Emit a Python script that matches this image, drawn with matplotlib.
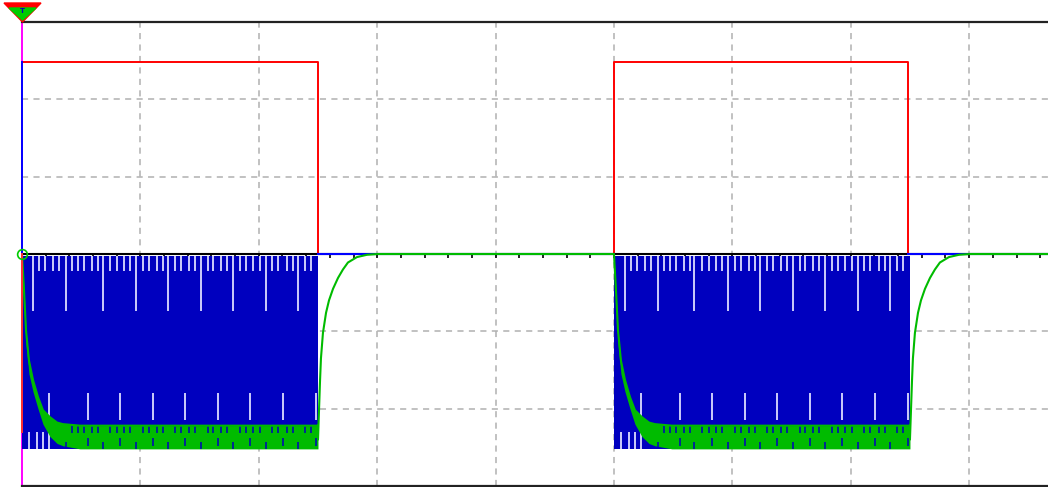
import matplotlib
matplotlib.use('Agg')
import matplotlib.pyplot as plt
from matplotlib.patches import Polygon
import numpy as np

# all values in screen divisions (x: time div, y: volts div)
pulse_starts = [0.0, 5.0]
pulse_len = 2.5

# red: gate/command square wave
red_t = [0.0, 2.5, 2.5, 5.0, 5.0, 7.48, 7.48, 8.7]
red_v = [2.48, 2.48, 0.0, 0.0, 2.48, 2.48, 0.0, 0.0]

# blue: switching signal (block envelope while pulse is on)
blue_top = -0.025
blue_bottom = -2.52
# white aliasing gaps inside the blue block, relative to pulse start
gap_long = [0.09, 0.37, 0.68, 0.96, 1.23, 1.51, 1.78, 2.06, 2.33]
gap_short = [0.144, 0.194, 0.262, 0.312, 0.422, 0.473, 0.524, 0.591, 0.642,
             0.743, 0.802, 0.861, 0.912, 1.022, 1.073, 1.140, 1.191, 1.292,
             1.343, 1.410, 1.461, 1.571, 1.613, 1.681, 1.731, 1.841, 1.892,
             1.951, 2.010, 2.111, 2.162, 2.238, 2.289, 2.390, 2.441]
gap_low = [0.228, 0.557, 0.828, 1.106, 1.377, 1.655, 1.926, 2.204, 2.483]
gap_bottom = [0.06, 0.13, 0.18, 0.23]

# green: filtered output, fall after pulse start
fall_t = [0.0, 0.017, 0.034, 0.059, 0.093, 0.135, 0.177, 0.236, 0.296, 0.346, 0.49]
fall_hi = [0.0, -0.47, -0.99, -1.38, -1.63, -1.85, -2.02, -2.11, -2.18, -2.20, -2.22]
fall_lo = [0.0, -0.60, -1.16, -1.55, -1.78, -2.00, -2.20, -2.36, -2.45, -2.48, -2.52]
band_hi = -2.22
band_lo = -2.52
# green rise after pulse end
rise_t = [0.0, 0.008, 0.017, 0.025, 0.042, 0.068, 0.093, 0.127, 0.169, 0.211,
          0.253, 0.329, 0.414, 0.507]
rise_v = [-2.40, -2.05, -1.65, -1.35, -1.02, -0.76, -0.60, -0.45, -0.31, -0.20,
          -0.11, -0.04, -0.01, 0.0]

XMAX = 8.666
BLUE = '#0000bf'
GREEN = '#00bb00'
GAP = '#dcdcff'

fig = plt.figure(figsize=(10.48, 4.87), dpi=100, facecolor='white')
ax = fig.add_axes([22/1048, 1/487, 1026/1048, 464/487])
ax.set_xlim(0, XMAX)
ax.set_ylim(-3, 3)
ax.set_xticks([])
ax.set_yticks([])

ax.spines['top'].set_color('#222222')
ax.spines['top'].set_linewidth(1.6)
ax.spines['bottom'].set_color('#222222')
ax.spines['bottom'].set_linewidth(1.6)
ax.spines['left'].set_color('#ff00ff')
ax.spines['left'].set_linewidth(1.4)
ax.spines['right'].set_visible(False)

# grid
for gx in range(1, 9):
    ax.axvline(gx, color='#b0b0b0', lw=1.1, ls=(0, (4, 3.5)), zorder=1)
for gy in [-2, -1, 1, 2]:
    ax.axhline(gy, color='#b0b0b0', lw=1.1, ls=(0, (4, 3.5)), zorder=1)

# zero line with small ticks
ax.axhline(0, color='black', lw=1.5, zorder=2)
ax.vlines(np.arange(0, XMAX, 0.2), -0.05, 0, color='black', lw=1.2, zorder=2)

# red (its zero segments sit under the blue trace)
ax.plot(red_t, red_v, color='#ff0000', lw=1.4, zorder=3.2)

# blue block + gaps
for s in pulse_starts:
    ax.fill_between([s, s + pulse_len], blue_bottom, blue_top, color=BLUE,
                    lw=0, zorder=3)
    ax.vlines([s + g for g in gap_long], -0.74, blue_top, color=GAP, lw=1.3, zorder=3.1)
    ax.vlines([s + g for g in gap_short], -0.22, blue_top, color=GAP, lw=1.3, zorder=3.1)
    ax.vlines([s + g for g in gap_low], -2.15, -1.80, color=GAP, lw=1.3, zorder=3.1)
    ax.vlines([s + g for g in gap_bottom], -2.52, -2.30, color=GAP, lw=1.3, zorder=3.1)
# blue at zero when off
ax.plot([2.5, 5.0], [0, 0], color='#0000ff', lw=1.5, zorder=3.5)
ax.plot([7.48, XMAX], [0, 0], color='#0000ff', lw=1.5, zorder=3.5)

# green
g_t, g_v = [0.0], [0.0]
for s in pulse_starts:
    ft = [s + t for t in fall_t]
    ax.fill_between(ft + [s + pulse_len], fall_hi + [band_hi], fall_lo + [band_lo],
                    color=GREEN, lw=0, zorder=5)
    g_t += ft + [s + pulse_len]
    g_v += fall_hi + [band_hi]
    g_t += [s + pulse_len + t for t in rise_t]
    g_v += rise_v
    # switching ripple showing through the green band
    ripple = [s + g for g in gap_short if g > 0.4]
    ax.vlines(ripple, band_hi - 0.09, band_hi + 0.02, color=BLUE, lw=1.1, zorder=5.2)
    ax.vlines([s + g for g in gap_long[1:]], band_lo, band_lo + 0.09, color=BLUE,
              lw=1.1, zorder=5.2)
    ax.vlines([s + g for g in gap_low[1:]], band_lo + 0.04, band_lo + 0.14, color=BLUE,
              lw=1.1, zorder=5.2)
g_t.append(XMAX)
g_v.append(0.0)
ax.plot(g_t, g_v, color=GREEN, lw=1.5, zorder=5.5)

# left edge traces
ax.plot([0, 0], [0, 2.48], color='#0000ff', lw=1.4, zorder=6, clip_on=False)
ax.plot([0, 0], [0, -2.3], color='#ff3030', lw=1.4, zorder=6, clip_on=False)
ax.plot([0], [0], 'o', ms=7, mfc='none', mec='#00cc00', mew=1.2, zorder=7, clip_on=False)

# trigger marker at top-left
def fpt(x, y):
    return (x / 1048, 1 - y / 487)

fig.add_artist(Polygon([fpt(4, 3), fpt(41, 3), fpt(22.5, 22)], closed=True,
                       color='#ff0000', transform=fig.transFigure))
fig.add_artist(Polygon([fpt(9, 8), fpt(36, 8), fpt(22.5, 20)], closed=True,
                       color='#00cc00', transform=fig.transFigure))
fig.text(22.5 / 1048, 1 - 11 / 487, 'T', fontsize=5, color='#0000c0', ha='center',
         va='center', fontweight='bold')

fig.savefig('out.png', dpi=100, facecolor='white')
